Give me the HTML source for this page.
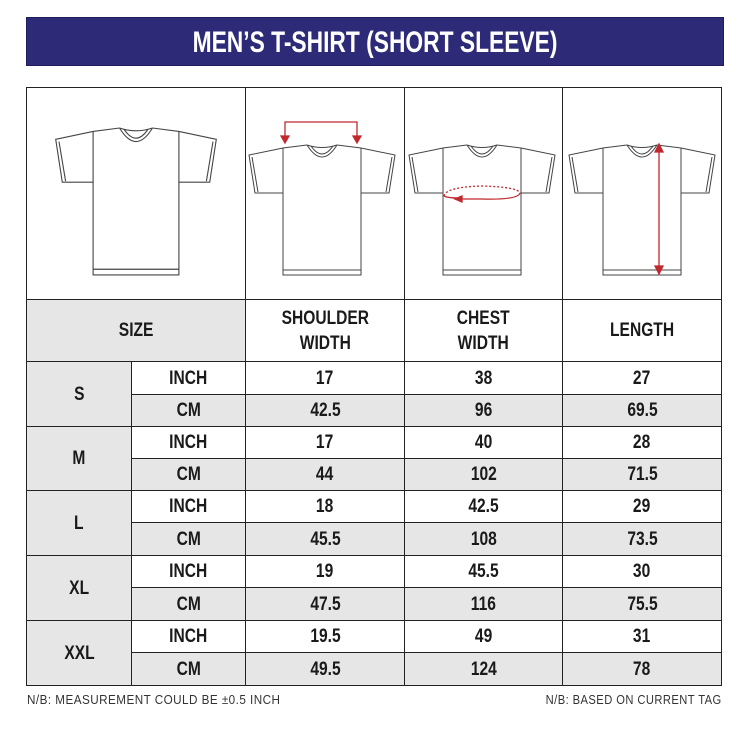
<!DOCTYPE html>
<html><head><meta charset="utf-8"><style>
*{margin:0;padding:0;box-sizing:border-box}
body{width:750px;height:730px;background:#fff;position:relative;overflow:hidden;font-family:"Liberation Sans",sans-serif;font-weight:bold;color:#1a1a1a}
.banner{position:absolute;left:26px;top:17px;width:698px;height:49px;background:#2d2a78;border:1px solid #1e1c5a;color:#fff;font-size:30px;text-align:center;line-height:49px}
.banner span{display:inline-block;transform:scaleX(.76)}
.c{position:absolute;border:1px solid #222;display:flex;align-items:center;justify-content:center;text-align:center;font-size:19px;line-height:25px}
.c span{display:inline-block;transform:scaleX(.82)}
.g{background:#e6e6e6}
.note{position:absolute;top:692px;font-size:13px;font-weight:normal;color:#333;letter-spacing:0.5px;white-space:nowrap}
</style></head><body>
<div class="banner"><span>MEN’S T-SHIRT (SHORT SLEEVE)</span></div>

<div class="c" style="left:26px;top:87px;width:220px;height:213px"></div>
<div class="c" style="left:245px;top:87px;width:160px;height:213px"></div>
<div class="c" style="left:404px;top:87px;width:159px;height:213px"></div>
<div class="c" style="left:562px;top:87px;width:160px;height:213px"></div>

<svg style="position:absolute;left:0;top:0" width="750" height="300">
<defs>
<g id="shirt" fill="none" stroke="#444" stroke-width="1">
<path d="M-15,0 L-39,3 L-73,10 L-67,48 L-39,48 L-39,130 L39,130 L39,48 L67,48 L73,10 L39,3 L15,0"/>
<path d="M-39,3 L-39,48 M39,3 L39,48 M-39,125 L39,125 M-70,12 L-64,47 M70,12 L64,47"/>
<path d="M-15,0 Q0,24 15,0 M-11,1 Q0,17 11,1 M-15,0 Q0,5 15,0"/>
</g>
</defs>
<use href="#shirt" transform="translate(136,128) scale(1.1,1.13)"/>
<use href="#shirt" transform="translate(322,145)"/>
<use href="#shirt" transform="translate(482,145)"/>
<use href="#shirt" transform="translate(642,145)"/>
<g stroke="#c0282d" fill="#c0282d" stroke-width="1.3">
<path d="M285,140 L285,122 L357,122 L357,140" fill="none"/>
<path d="M281,136 L289,136 L285,143Z M353,136 L361,136 L357,143Z"/>
<path d="M444,196 Q446,187 482,186 Q518,187 520,193" fill="none" stroke-dasharray="2,2"/>
<path d="M520,193 Q518,200 482,199 L462,199" fill="none"/>
<path d="M444,196 Q448,198 458,198" fill="none"/>
<path d="M462,196 L455,199 L462,202Z"/>
<path d="M659,150 L659,268" fill="none"/>
<path d="M655,152 L659,144 L663,152Z M655,266 L659,274 L663,266Z"/>
</g>
</svg>

<div class="c g" style="left:26px;top:299px;width:220px;height:63px"><span>SIZE</span></div>
<div class="c" style="left:245px;top:299px;width:160px;height:63px"><span>SHOULDER<br>WIDTH</span></div>
<div class="c" style="left:404px;top:299px;width:159px;height:63px"><span>CHEST<br>WIDTH</span></div>
<div class="c" style="left:562px;top:299px;width:160px;height:63px"><span>LENGTH</span></div>

<div class="c g" style="left:26px;top:361px;width:106px;height:66px"><span>S</span></div>
<div class="c" style="left:131px;top:361px;width:115px;height:34px"><span>INCH</span></div>
<div class="c" style="left:245px;top:361px;width:160px;height:34px"><span>17</span></div>
<div class="c" style="left:404px;top:361px;width:159px;height:34px"><span>38</span></div>
<div class="c" style="left:562px;top:361px;width:160px;height:34px"><span>27</span></div>
<div class="c g" style="left:131px;top:394px;width:115px;height:33px"><span>CM</span></div>
<div class="c g" style="left:245px;top:394px;width:160px;height:33px"><span>42.5</span></div>
<div class="c g" style="left:404px;top:394px;width:159px;height:33px"><span>96</span></div>
<div class="c g" style="left:562px;top:394px;width:160px;height:33px"><span>69.5</span></div>

<div class="c g" style="left:26px;top:426px;width:106px;height:65px"><span>M</span></div>
<div class="c" style="left:131px;top:426px;width:115px;height:33px"><span>INCH</span></div>
<div class="c" style="left:245px;top:426px;width:160px;height:33px"><span>17</span></div>
<div class="c" style="left:404px;top:426px;width:159px;height:33px"><span>40</span></div>
<div class="c" style="left:562px;top:426px;width:160px;height:33px"><span>28</span></div>
<div class="c g" style="left:131px;top:458px;width:115px;height:33px"><span>CM</span></div>
<div class="c g" style="left:245px;top:458px;width:160px;height:33px"><span>44</span></div>
<div class="c g" style="left:404px;top:458px;width:159px;height:33px"><span>102</span></div>
<div class="c g" style="left:562px;top:458px;width:160px;height:33px"><span>71.5</span></div>

<div class="c g" style="left:26px;top:490px;width:106px;height:66px"><span>L</span></div>
<div class="c" style="left:131px;top:490px;width:115px;height:33px"><span>INCH</span></div>
<div class="c" style="left:245px;top:490px;width:160px;height:33px"><span>18</span></div>
<div class="c" style="left:404px;top:490px;width:159px;height:33px"><span>42.5</span></div>
<div class="c" style="left:562px;top:490px;width:160px;height:33px"><span>29</span></div>
<div class="c g" style="left:131px;top:522px;width:115px;height:34px"><span>CM</span></div>
<div class="c g" style="left:245px;top:522px;width:160px;height:34px"><span>45.5</span></div>
<div class="c g" style="left:404px;top:522px;width:159px;height:34px"><span>108</span></div>
<div class="c g" style="left:562px;top:522px;width:160px;height:34px"><span>73.5</span></div>

<div class="c g" style="left:26px;top:555px;width:106px;height:66px"><span>XL</span></div>
<div class="c" style="left:131px;top:555px;width:115px;height:33px"><span>INCH</span></div>
<div class="c" style="left:245px;top:555px;width:160px;height:33px"><span>19</span></div>
<div class="c" style="left:404px;top:555px;width:159px;height:33px"><span>45.5</span></div>
<div class="c" style="left:562px;top:555px;width:160px;height:33px"><span>30</span></div>
<div class="c g" style="left:131px;top:587px;width:115px;height:34px"><span>CM</span></div>
<div class="c g" style="left:245px;top:587px;width:160px;height:34px"><span>47.5</span></div>
<div class="c g" style="left:404px;top:587px;width:159px;height:34px"><span>116</span></div>
<div class="c g" style="left:562px;top:587px;width:160px;height:34px"><span>75.5</span></div>

<div class="c g" style="left:26px;top:620px;width:106px;height:66px"><span>XXL</span></div>
<div class="c" style="left:131px;top:620px;width:115px;height:33px"><span>INCH</span></div>
<div class="c" style="left:245px;top:620px;width:160px;height:33px"><span>19.5</span></div>
<div class="c" style="left:404px;top:620px;width:159px;height:33px"><span>49</span></div>
<div class="c" style="left:562px;top:620px;width:160px;height:33px"><span>31</span></div>
<div class="c g" style="left:131px;top:652px;width:115px;height:34px"><span>CM</span></div>
<div class="c g" style="left:245px;top:652px;width:160px;height:34px"><span>49.5</span></div>
<div class="c g" style="left:404px;top:652px;width:159px;height:34px"><span>124</span></div>
<div class="c g" style="left:562px;top:652px;width:160px;height:34px"><span>78</span></div>

<div class="note" style="left:27px;transform:scaleX(.9);transform-origin:left">N/B: MEASUREMENT COULD BE ±0.5 INCH</div>
<div class="note" style="right:28px;transform:scaleX(.86);transform-origin:right">N/B: BASED ON CURRENT TAG</div>
</body></html>
